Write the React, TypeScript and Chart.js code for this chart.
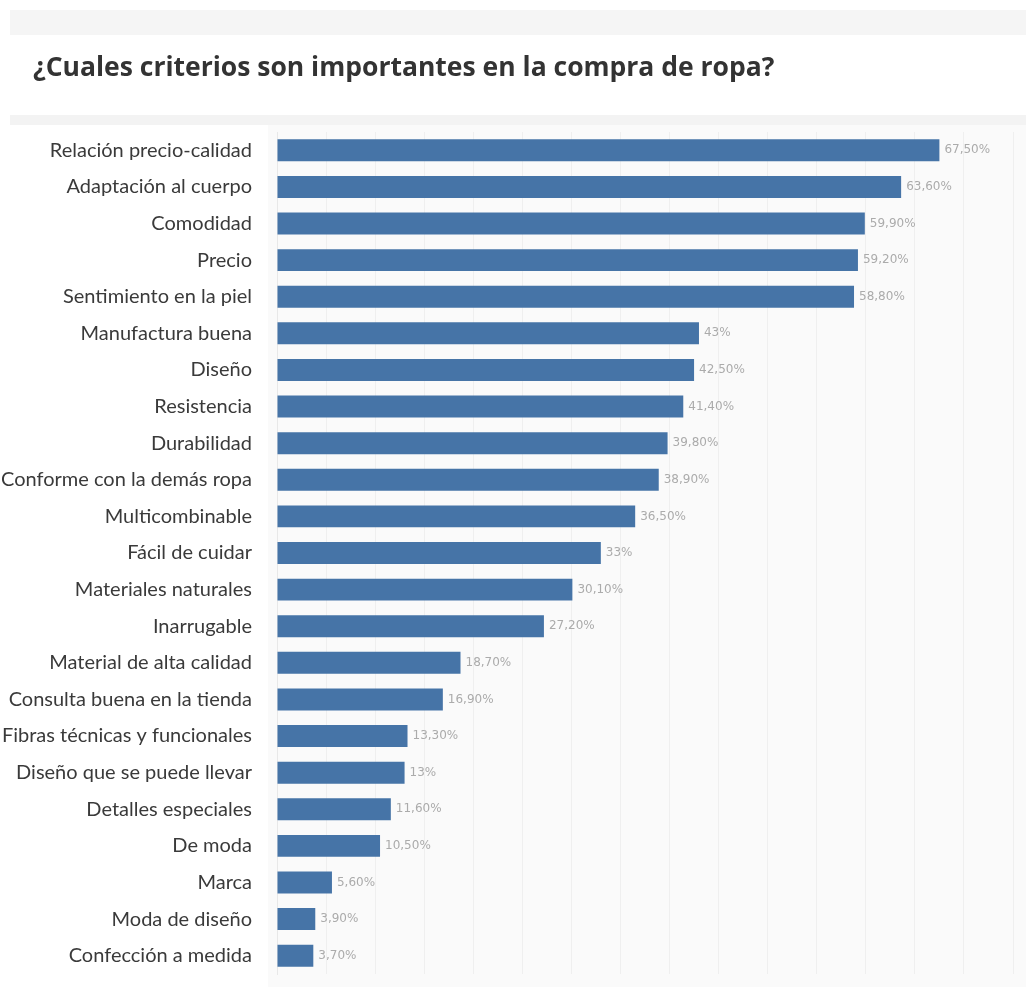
import React, { useEffect, useRef } from "react";
import { Chart, registerables } from "chart.js";

Chart.register(...registerables);

const TITLE = "¿Cuales criterios son importantes en la compra de ropa?";

const categories = [
  "Relación precio-calidad",
  "Adaptación al cuerpo",
  "Comodidad",
  "Precio",
  "Sentimiento en la piel",
  "Manufactura buena",
  "Diseño",
  "Resistencia",
  "Durabilidad",
  "Conforme con la demás ropa",
  "Multicombinable",
  "Fácil de cuidar",
  "Materiales naturales",
  "Inarrugable",
  "Material de alta calidad",
  "Consulta buena en la tienda",
  "Fibras técnicas y funcionales",
  "Diseño que se puede llevar",
  "Detalles especiales",
  "De moda",
  "Marca",
  "Moda de diseño",
  "Confección a medida",
];

const values = [
  67.5, 63.6, 59.9, 59.2, 58.8, 43, 42.5, 41.4, 39.8, 38.9, 36.5, 33, 30.1, 27.2,
  18.7, 16.9, 13.3, 13, 11.6, 10.5, 5.6, 3.9, 3.7,
];

const xMax = 75;
const xStep = 5;

function fmt(v: number): string {
  if (Number.isInteger(v)) return `${v}%`;
  return `${v.toFixed(2).replace(".", ",")}%`;
}

const backgroundPlugin = {
  id: "bgPanels",
  beforeDraw(chart: any) {
    const { ctx, width, height, chartArea } = chart;
    ctx.save();
    ctx.fillStyle = "#ffffff";
    ctx.fillRect(0, 0, width, height);
    ctx.fillStyle = "#f5f5f5";
    ctx.fillRect(10, 10, width - 10, 25);
    ctx.fillStyle = "#f3f3f3";
    ctx.fillRect(10, 115, width - 10, height - 115);
    ctx.fillStyle = "#ffffff";
    ctx.fillRect(10, 125, chartArea.left - 19, height - 125);
    ctx.fillStyle = "#fafafa";
    ctx.fillRect(chartArea.left - 9, 125, width - chartArea.left + 9, height - 125);
    // title
    ctx.fillStyle = "#333333";
    ctx.font = "bold 26.5px 'Open Sans', sans-serif";
    ctx.textAlign = "left";
    ctx.textBaseline = "middle";
    ctx.fillText(TITLE, 33, 68);
    ctx.restore();
  },
};

const valueLabelPlugin = {
  id: "valueLabels",
  afterDatasetsDraw(chart: any) {
    const { ctx } = chart;
    const meta = chart.getDatasetMeta(0);
    ctx.save();
    ctx.font = "12px 'DejaVu Sans', sans-serif";
    ctx.fillStyle = "#ababab";
    ctx.textAlign = "left";
    ctx.textBaseline = "middle";
    meta.data.forEach((bar: any, i: number) => {
      ctx.fillText(fmt(values[i]), bar.x + 5, bar.y);
    });
    ctx.restore();
  },
};

export default function App() {
  const ref = useRef<HTMLCanvasElement | null>(null);

  useEffect(() => {
    if (!ref.current) return;
    const chart = new Chart(ref.current, {
      type: "bar",
      data: {
        labels: categories,
        datasets: [
          {
            data: values,
            backgroundColor: "#4674a7",
            borderWidth: 0,
            barPercentage: 0.6,
            categoryPercentage: 1,
          },
        ],
      },
      options: {
        indexAxis: "y",
        animation: false,
        responsive: false,
        maintainAspectRatio: false,
        layout: { padding: { left: 0, right: 13, top: 132, bottom: 13 } },
        plugins: {
          legend: { display: false },
          tooltip: { enabled: false },
          title: { display: false },
        },
        scales: {
          x: {
            min: 0,
            max: xMax,
            ticks: { display: false, stepSize: xStep },
            grid: { color: "#efefef", drawTicks: false, lineWidth: 1 },
            border: { display: false },
            afterFit(scale: any) {
              scale.height = 0;
            },
          },
          y: {
            ticks: {
              color: "#3a3a3a",
              padding: 1,
              autoSkip: false,
              font: { family: "Lato, sans-serif", size: 20 },
            },
            grid: { display: false, drawTicks: true, tickLength: 24 },
            border: { display: true, color: "#e8e8e8" },
            afterFit(scale: any) {
              scale.width = 277;
            },
          },
        },
      },
      plugins: [backgroundPlugin, valueLabelPlugin],
    });
    return () => chart.destroy();
  }, []);

  return (
    <div style={{ position: "absolute", left: 0, top: 0, width: 1026, height: 987 }}>
      <canvas ref={ref} width={1026} height={987} style={{ width: 1026, height: 987, display: "block" }} />
    </div>
  );
}
